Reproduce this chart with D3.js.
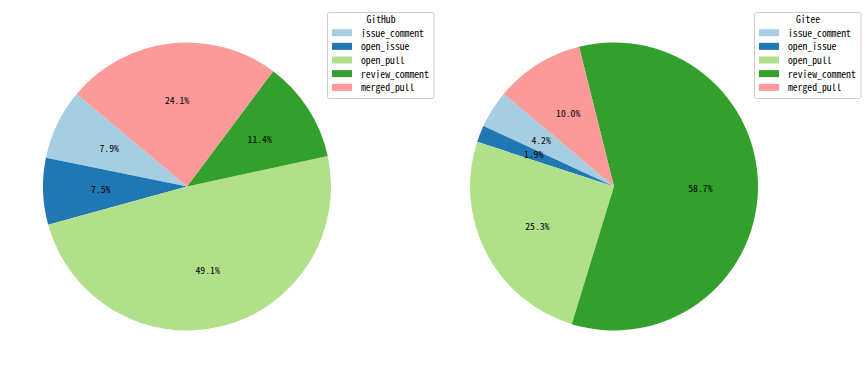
<!DOCTYPE html>
<html>
<head>
<meta charset="utf-8">
<script src="https://cdn.jsdelivr.net/npm/d3@7"></script>
<style>
  body { margin: 0; background: #fff; }
  svg text { font-family: "Noto Sans Mono CJK SC", "Noto Sans CJK SC", "DejaVu Sans Mono", monospace; font-size: 9.7px; fill: #000; }
</style>
</head>
<body>
<svg id="chart" width="867" height="374"></svg>
<script>
// event categories, same order in both pies
var categories = ["issue_comment", "open_issue", "open_pull", "review_comment", "merged_pull"];
// share of each event type, percent
var githubValues = [7.9, 7.5, 49.1, 11.4, 24.1];
var giteeValues = [4.2, 1.9, 25.3, 58.7, 10.0];
var titles = ["GitHub", "Gitee"];

var colors = d3.scaleOrdinal()
    .domain(categories)
    .range(["#a6cee3", "#1f78b4", "#b2df8a", "#33a02c", "#fb9a99"]);

var svg = d3.select("#chart");

/* matplotlib style: startangle 140, counterclockwise
   d3 angles go clockwise from 12 o'clock */
function drawPie(values, cx, cy, r, title, legendX){
    var start = (90 - 140) * Math.PI / 180;
    var pie = d3.pie()
        .sort(null)
        .value(function(d){ return d.value; })
        .startAngle(start)
        .endAngle(start - 2 * Math.PI);

    var data = categories.map(function(c, i){ return {name: c, value: values[i]}; });
    var arcs = pie(data);

    var arc = d3.arc().innerRadius(0).outerRadius(r);
    var labelArc = d3.arc().innerRadius(r * 0.6).outerRadius(r * 0.6);

    var g = svg.append("g").attr("transform", "translate(" + cx + "," + cy + ")");

    g.selectAll("path")
        .data(arcs)
        .enter().append("path")
        .attr("d", arc)
        .attr("fill", function(d){ return colors(d.data.name); })
        .attr("stroke", "none");

    g.selectAll("text")
        .data(arcs)
        .enter().append("text")
        .attr("transform", function(d){ return "translate(" + labelArc.centroid(d) + ")"; })
        .attr("text-anchor", "middle")
        .attr("dy", "0.35em")
        .text(function(d){ return d.data.value.toFixed(1) + "%"; });

    // legend
    var lg = svg.append("g").attr("transform", "translate(" + legendX + ",12)");
    lg.append("rect")
        .attr("x", 0.5).attr("y", 0.5)
        .attr("width", 106.5).attr("height", 86)
        .attr("rx", 2).attr("ry", 2)
        .attr("fill", "#fff").attr("fill-opacity", 0.8)
        .attr("stroke", "#cccccc").attr("stroke-width", 1);
    lg.append("text")
        .attr("x", 54).attr("y", 7.8)
        .attr("text-anchor", "middle")
        .attr("dy", "0.35em")
        .text(title);

    var rowY = d3.scaleLinear().domain([0, 4]).range([20.7, 75.3]);
    var rows = lg.selectAll("g.row")
        .data(categories)
        .enter().append("g")
        .attr("class", "row")
        .attr("transform", function(d, i){ return "translate(0," + rowY(i) + ")"; });
    rows.append("rect")
        .attr("x", 5).attr("y", -3.5)
        .attr("width", 20).attr("height", 7)
        .attr("fill", function(d){ return colors(d); });
    rows.append("text")
        .attr("x", 34)
        .attr("dy", "0.4em")
        .text(function(d){ return d; });
}

drawPie(githubValues, 187, 186.5, 144, titles[0], 327);
drawPie(giteeValues, 614, 186.5, 144, titles[1], 754);
</script>
</body>
</html>
